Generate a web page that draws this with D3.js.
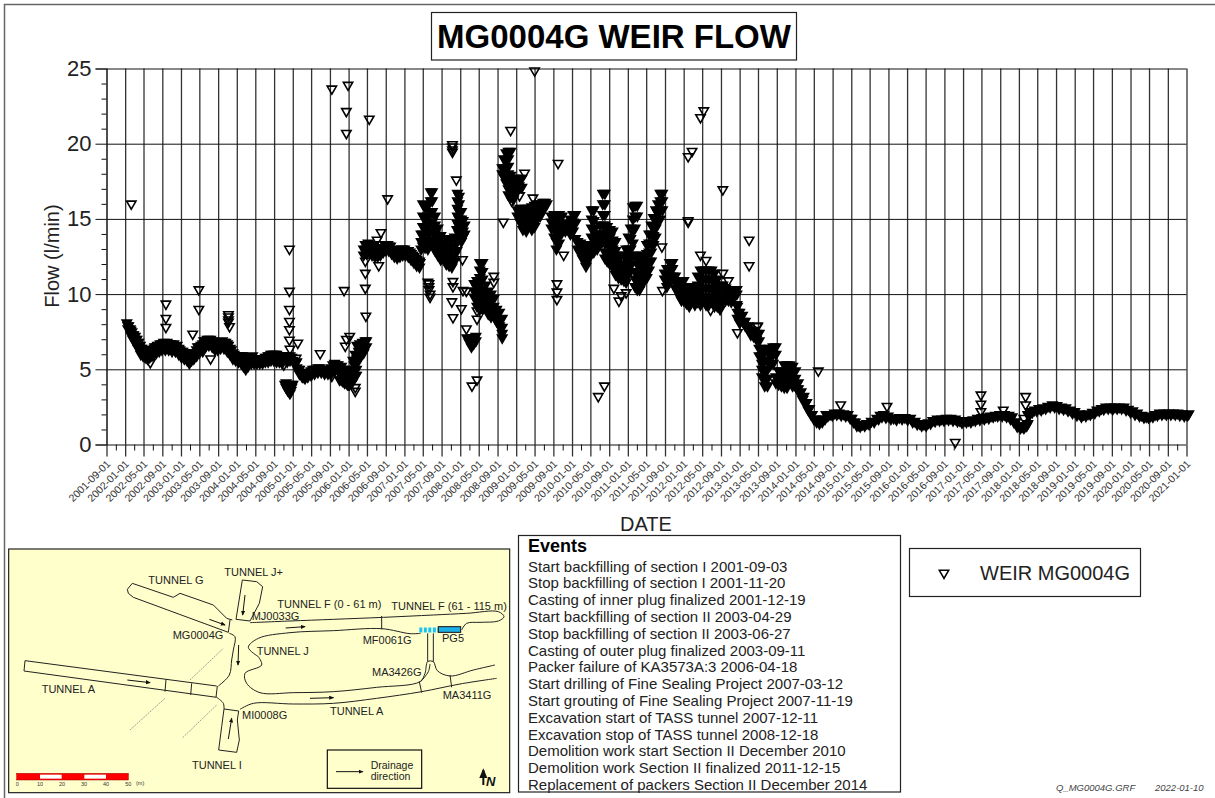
<!DOCTYPE html>
<html>
<head>
<meta charset="utf-8">
<style>
	body {margin: 0; background: #fff;}
	svg {display: block; font-family: "Liberation Sans", Arial, sans-serif;}
</style>
<script src="https://d3js.org/d3.v7.min.js"></script>
</head>
<body>
<svg id="chart" width="1215" height="798"></svg>
<script>
// x tick labels, every 4 months
var xTickLabels = ["2001-09-01","2002-01-01","2002-05-01","2002-09-01","2003-01-01","2003-05-01","2003-09-01","2004-01-01","2004-05-01","2004-09-01","2005-01-01","2005-05-01","2005-09-01","2006-01-01","2006-05-01","2006-09-01","2007-01-01","2007-05-01","2007-09-01","2008-01-01","2008-05-01","2008-09-01","2009-01-01","2009-05-01","2009-09-01","2010-01-01","2010-05-01","2010-09-01","2011-01-01","2011-05-01","2011-09-01","2012-01-01","2012-05-01","2012-09-01","2013-01-01","2013-05-01","2013-09-01","2014-01-01","2014-05-01","2014-09-01","2015-01-01","2015-05-01","2015-09-01","2016-01-01","2016-05-01","2016-09-01","2017-01-01","2017-05-01","2017-09-01","2018-01-01","2018-05-01","2018-09-01","2019-01-01","2019-05-01","2019-09-01","2020-01-01","2020-05-01","2020-09-01","2021-01-01"];
var yTicks = [0, 5, 10, 15, 20, 25];
var yMinorTicks = [1,2,3,4,6,7,8,9,11,12,13,14,16,17,18,19,21,22,23,24];

// readings: [decimal year, flow, flow, ...]
var flowEarly = [[2002.03,8.1],[2002.06,7.9],[2002.09,7.7],[2002.12,7.5],[2002.15,7.3],[2002.18,7.2],[2002.21,7.0],[2002.24,6.8],[2002.27,6.6],[2002.30,6.4],[2002.33,6.3],[2002.37,6.1],[2002.41,6.1],[2002.45,6.1],[2002.49,6.3],[2002.53,6.5],[2002.58,6.6],[2002.63,6.7],[2002.69,6.8],[2002.75,6.8],[2002.81,6.7],[2002.87,6.7],[2002.93,6.6],[2002.98,6.3],[2003.03,6.2],[2003.08,6.1],[2003.13,5.9],[2003.16,5.7],[2003.20,6.0],[2003.25,6.1],[2003.30,6.5],[2003.36,6.6],[2003.41,6.9],[2003.47,7.0],[2003.53,7.0],[2003.58,6.8],[2003.63,6.6],[2003.68,6.7],[2003.74,6.9],[2003.80,6.8],[2003.85,6.6],[2003.90,6.3],[2003.95,6.0],[2004.00,5.9],[2004.05,5.9],[2004.10,5.9],[2004.14,5.5],[2004.18,5.3],[2004.23,5.7],[2004.28,5.9],[2004.33,5.6],[2004.38,5.7],[2004.43,5.6],[2004.48,5.7],[2004.53,5.8],[2004.58,5.9],[2004.63,6.0],[2004.68,6.0],[2004.73,5.9],[2004.78,5.9],[2004.84,5.9],[2004.86,4.0],[2004.89,3.9],[2004.92,3.7],[2004.95,3.4],[2004.98,3.8,5.8],[2005.00,4.0,5.6],[2005.05,5.4],[2005.10,5.0],[2005.15,4.7],[2005.20,4.5],[2005.25,4.6],[2005.30,4.8],[2005.36,5.0],[2005.42,5.0],[2005.48,5.1],[2005.54,5.0],[2005.60,4.9],[2005.66,4.9],[2005.72,5.3],[2005.78,5.3],[2005.84,5.1,4.3],[2005.90,5.0,4.2],[2005.96,4.8,4.1],[2006.00,4.5,4.0],[2006.04,4.3],[2006.08,4.5,5.6],[2006.12,4.6,6.0],[2006.15,6.6,5.7],[2006.20,6.7,6.0],[2006.25,6.8,6.2],[2006.30,6.9]];

var flowEarlyLow = [[2002.05,7.9,7.7],[2002.10,7.6,7.3],[2002.14,7.3,7.0],[2002.19,7.0,6.7],[2002.23,6.8,6.4],[2002.28,6.4,6.0],[2002.32,6.3,5.9],[2002.36,6.2,5.8],[2002.40,6.1,5.7],[2002.44,6.2,5.8],[2002.48,6.3,5.9],[2002.52,6.4,6.0],[2002.56,6.5,6.1],[2002.61,6.6,6.2],[2002.66,6.7,6.3],[2002.72,6.7,6.3],[2002.78,6.7,6.3],[2002.84,6.6,6.2],[2002.90,6.5,6.2],[2002.96,6.4,6.0],[2003.01,6.2,5.8],[2003.06,6.1,5.7],[2003.11,6.0,5.6],[2003.15,5.8,5.4],[2003.19,5.9,5.6],[2003.23,6.1,5.7],[2003.28,6.3,5.9],[2003.33,6.5,6.1],[2003.39,6.7,6.2],[2003.44,6.9,6.5],[2003.50,7.0,6.6],[2003.56,6.9,6.5],[2003.61,6.7,6.3],[2003.66,6.7,6.3],[2003.71,6.8,6.4],[2003.77,6.8,6.4],[2003.83,6.7,6.2],[2003.88,6.4,6.0],[2003.93,6.1,5.7],[2003.98,5.9,5.6],[2004.03,5.9,5.5],[2004.08,5.9,5.4],[2004.12,5.7,5.2],[2004.16,5.4,5.0],[2004.20,5.5,5.2],[2004.26,5.8,5.4],[2004.31,5.7,5.4],[2004.36,5.7,5.4],[2004.41,5.7,5.4],[2004.46,5.7,5.4],[2004.51,5.8,5.5],[2004.56,5.9,5.5],[2004.61,6.0,5.6],[2004.66,6.0,5.6],[2004.71,6.0,5.5],[2004.76,5.9,5.5],[2004.81,5.9,5.4],[2004.88,4.1,3.8],[2004.91,4.0,3.6],[2004.94,3.9,3.5],[2004.97,4.0,3.6],[2004.90,5.9,5.5],[2004.95,5.9,5.6],[2005.02,5.5],[2005.07,5.5,5.1],[2005.12,5.0,4.7],[2005.17,4.8,4.5],[2005.22,4.6,4.4],[2005.27,4.7,4.5],[2005.33,4.9,4.6],[2005.39,5.0,4.7],[2005.45,5.1,4.8],[2005.51,5.0,4.8],[2005.57,5.0,4.7],[2005.63,4.9,4.7],[2005.69,5.1,4.7],[2005.75,5.4,4.9],[2005.81,5.3,4.9],[2005.87,5.2,4.7,4.3],[2005.93,5.0,4.6,4.1],[2005.98,4.9,4.5,4.0],[2006.02,4.8,4.4,4.0],[2006.06,5.0,4.5,4.1],[2006.10,5.3,4.8,4.4],[2006.14,5.6,5.0,4.6],[2006.18,6.2,5.6],[2006.22,6.4,5.9],[2006.27,6.5,6.1],[2006.32,6.9,6.5]];

var flowMid = [[2006.27,13.0,12.6],[2006.30,13.3,12.9],[2006.35,13.4],[2006.40,13.3],[2006.45,12.9,13.3],[2006.50,13.1],[2006.55,12.9],[2006.60,13.0],[2006.65,13.3],[2006.70,13.3],[2006.75,13.2],[2006.80,12.9],[2006.85,12.8],[2006.90,12.7],[2006.95,13.0],[2007.00,13.0],[2007.05,12.9],[2007.10,12.8],[2007.15,12.6],[2007.20,12.4],[2007.25,12.2],[2007.28,12.1],
[2006.32,13.0,12.7],[2006.37,13.2,12.8],[2006.42,13.1,12.6],[2006.47,13.0,12.5],[2006.52,12.9,12.5],[2006.57,12.9,12.6],[2006.62,13.1,12.8],[2006.67,13.2,12.9],[2006.72,13.2,12.9],[2006.77,13.0,12.7],[2006.82,12.9,12.5],[2006.87,12.7,12.4],[2006.92,12.9,12.5],[2006.97,13.0,12.6],[2007.02,12.9,12.6],[2007.07,12.9,12.5],[2007.12,12.7,12.3],[2007.17,12.5,12.1],[2007.22,12.3,11.9],[2007.27,12.2,11.8],
[2007.30,14.0,13.5,13.0],[2007.33,16.0,15.2,14.5,14.0,13.2],[2007.37,15.8,15.0,14.4,13.6,13.1],[2007.42,15.9,15.2,14.6,14.0,13.4,13.0],[2007.47,16.8,16.2,15.4,14.8,14.2,13.6],[2007.50,16.8,16.2,15.5,14.8,14.2,13.5],[2007.55,15.2,14.6,14.0,13.4,12.9],[2007.60,14.4,13.8,13.2,12.6],[2007.65,13.9,13.3,12.7,12.3],[2007.70,13.7,13.1,12.5],[2007.75,13.5,12.9,12.4,12.0],[2007.80,13.6,13.0,12.4,11.9],[2007.85,13.7,13.1,12.5,11.8],[2007.90,13.8,13.2,12.6,12.2],[2007.94,14.3,13.5,12.9],[2007.95,16.7,16.2,15.7,15.2,14.7],[2007.98,16.5,16.0,15.5,15.0,14.5,14.0],[2008.02,15.5,15.0,14.5,14.0,13.5],[2008.05,14.9,14.2,13.8],[2008.08,14.6,14.0],
[2008.12,7.1],[2008.16,7.0,6.8],[2008.20,7.1,6.8,6.5],[2008.24,7.1,6.7],[2008.28,7.2,6.9],
[2008.25,10.7,10.2,9.8],[2008.30,10.9,10.4,10.0,9.6,9.2],[2008.35,12.1,11.6,11.1,10.6,10.1,9.6,9.0],[2008.40,12.1,11.5,11.0,10.5,10.0,9.5,9.0],[2008.45,10.6,10.1,9.5,9.1],[2008.50,10.2,9.7,9.2,8.7],[2008.55,10.0,9.5,9.0,8.5],[2008.60,9.7,9.2,8.7,8.6],[2008.65,9.0,8.6,8.2],[2008.70,8.8,8.3,7.9],[2008.75,8.4,7.8,7.4,7.1],
[2008.75,18.4,18.0],[2008.78,19.0,18.4,17.8],[2008.82,19.4,18.9,18.3,17.8,17.4],[2008.86,19.5,19.0,18.5,18.0,17.5,17.0,16.6],[2008.90,19.5,17.9,17.4,17.0,16.5],[2008.95,17.7,17.2,16.7,16.3],[2009.00,17.7,17.2,16.7],[2009.05,17.7,17.2],[2009.10,17.7,17.1],
[2009.02,15.6,15.2],[2009.07,15.7,15.2,14.8],[2009.12,15.7,15.2,14.7,14.3],[2009.18,15.7,15.2,14.7,14.2],[2009.23,15.7,15.2,14.8],[2009.28,15.8,15.3,14.8,14.3],[2009.33,15.9,15.4,14.9,14.5],[2009.38,16.0,15.5,15.0],[2009.43,16.0,15.6,15.2],[2009.48,16.1,15.7],[2009.52,16.1,15.8],[2009.55,16.0]];

var flowSwings = [[2009.63,15.2,14.8,14.4],[2009.68,15.3,14.8,14.3,13.8],[2009.72,15.3,14.7,14.1,13.5,13.0],[2009.77,15.3,14.6,14.0,13.4],[2009.82,15.2,14.6,14.1],[2009.88,14.7,14.2],[2009.93,14.3],[2009.97,15.0,14.5,14.0],[2010.02,15.3,14.8,14.2],[2010.06,15.3,14.7,13.7],[2010.10,13.5,13.0],[2010.15,13.4,13.0,12.7],[2010.20,13.2,12.7,12.4],[2010.25,13.0,12.5,12.0],[2010.30,13.3,12.8,12.4],[2010.35,15.6,15.0,14.4,13.8,13.2,12.7],[2010.39,15.6,14.9,14.3,13.6,13.0,12.8],[2010.45,14.0,13.4,13.0],[2010.50,14.6,14.0,13.4],[2010.55,16.7,16.0,15.3,14.6,14.0,13.5],[2010.59,16.7,16.0,15.3,14.6,14.0,13.4,12.8,12.4],[2010.63,14.5,14.0,13.4,12.8,12.2],[2010.68,14.3,13.8,13.2,12.6,12.0],[2010.73,14.2,13.6,13.0,12.4,11.8],[2010.78,13.5,12.9,12.3,11.7,11.3],[2010.83,12.5,12.0,11.5,11.1],[2010.88,12.6,12.0,11.5,11.0],[2010.93,12.6,12.0,11.4,10.9],[2010.97,13.0,12.4,11.8,11.2,10.8],[2011.01,13.8,13.0,12.4,11.8,11.3],[2011.05,14.4,13.7,13.0,12.4,11.9],[2011.09,15.8,15.0,14.2,13.4,12.6],[2011.13,15.9,15.2,14.4,12.6,11.5,11.0,10.5],[2011.17,15.9,15.2,12.5,12.0,11.4,10.8,10.3],[2011.21,12.5,12.0,11.4,10.8,10.3],[2011.25,12.5,12.0,11.5,11.0,10.6],[2011.30,12.6,12.0,11.5,11.0],[2011.34,13.3,12.7,12.1,11.6,11.1],[2011.38,14.0,13.4,12.8,12.2,11.6],[2011.42,14.6,14.0,13.4,12.8,12.2],[2011.46,15.1,14.5,13.9,13.3],[2011.50,15.6,15.0,14.4,13.8],[2011.54,16.0,15.4,14.8],[2011.58,16.7,16.2,15.6,15.0],[2011.62,16.7,16.2,15.6],
[2011.66,11.4,11.0],[2011.70,11.7,11.3,10.9,10.5],[2011.75,12.1,11.7,11.2,10.8],[2011.80,12.1,11.7,11.2],[2011.85,11.2,10.8,10.4],[2011.90,10.9,10.5,10.1],[2011.95,10.9,10.4,10.0,9.7],[2012.00,10.9,10.4,10.0,9.6],[2012.05,10.5,10.0,9.6,9.4],[2012.10,10.5,10.0,9.5,9.2],[2012.15,10.4,10.0,9.6],[2012.20,10.4,10.0,9.5,9.3],[2012.25,11.2,10.6,10.0,9.5],[2012.30,11.6,11.0,10.4,9.8,9.3],[2012.35,11.6,11.0,10.4,9.8],[2012.40,11.6,11.0,10.4,9.8,9.3],[2012.45,11.6,11.0,10.4,9.8,9.3],[2012.50,11.6,11.0,10.4,9.8],[2012.55,11.4,10.8,10.2,9.6,9.2],[2012.60,11.0,10.4,9.8,9.2],[2012.65,10.6,10.0,9.4,9.0],[2012.70,10.6,10.0,9.5],[2012.75,10.4,10.0,9.6],[2012.80,10.3,10.0,9.6],[2012.85,10.3,9.9,9.5],[2012.90,10.3,9.9],[2012.95,10.3,10.0,9.3],
[2012.96,9.2,8.8,8.4],[2013.00,8.8,8.4,8.1],[2013.05,8.6,8.2],[2013.10,8.2,7.9],[2013.15,7.7,7.9],[2013.20,7.6,7.3],[2013.25,7.6,7.2],[2013.30,7.4,7.0],[2013.35,7.4,6.9,6.4,5.9],[2013.40,6.4,5.9,5.4,5.0,4.5],[2013.45,6.2,5.6,5.0,4.4,3.9],[2013.50,6.2,5.6,5.0,4.4,3.9],[2013.55,6.4,5.9,5.3],[2013.60,6.5,6.0,5.4],[2013.65,6.5,6.0,4.5,4.1],[2013.70,4.9,4.4,4.0],[2013.75,4.9,4.4,3.9],[2013.80,5.3,4.8,4.3,3.8],[2013.85,5.3,4.8,4.3,3.8],[2013.90,5.3,4.8,4.4],[2013.95,5.2,4.8,4.3,3.9],[2014.00,4.9,4.4,3.9],[2014.05,4.1,3.7],[2014.10,3.5],[2014.15,3.2],[2014.20,2.8],[2014.25,2.4],[2014.30,2.0],[2014.35,1.7],[2014.40,1.6],[2014.45,1.6],[2014.50,1.7],
[2014.03,3.7],[2014.08,3.4],[2014.13,3.0],[2014.18,2.7],[2014.23,2.3],[2014.28,2.0],[2014.33,1.7],[2014.38,1.5],[2014.43,1.4],[2014.48,1.5],[2014.53,1.7]];

var flowLate = [[2014.55,2.0],[2014.62,2.0],[2014.70,2.1],[2014.78,2.1],[2014.86,2.05],[2014.94,2.0],[2015.01,1.75],[2015.07,1.5],[2015.13,1.3],[2015.20,1.35],[2015.28,1.4],[2015.36,1.55],[2015.46,1.75],[2015.52,1.95],[2015.58,2.0],[2015.66,1.9],[2015.76,1.75],[2015.86,1.8],[2015.96,1.8],[2016.06,1.75],[2016.14,1.55],[2016.22,1.4],[2016.30,1.35],[2016.38,1.45],[2016.46,1.6],[2016.54,1.7],[2016.62,1.7],[2016.70,1.75],[2016.78,1.75],[2016.86,1.7],[2016.94,1.6],[2017.02,1.6],[2017.10,1.6],[2017.18,1.65],[2017.26,1.75],[2017.34,1.8],[2017.42,1.85],[2017.50,1.9],[2017.58,1.95],[2017.66,2.0],[2017.74,2.0],[2017.82,1.95],[2017.88,1.85],[2017.94,1.5],[2018.00,1.25],[2018.06,1.2],[2018.12,1.25],[2018.16,1.4,2.0],[2018.20,2.2],[2018.28,2.3],[2018.36,2.4],[2018.44,2.45],[2018.52,2.55],[2018.60,2.65],[2018.68,2.6],[2018.76,2.5],[2018.84,2.45],[2018.92,2.3],[2019.00,2.2],[2019.08,2.05],[2019.16,2.0],[2019.24,2.05],[2019.32,2.15],[2019.40,2.3],[2019.48,2.4],[2019.56,2.5],[2019.64,2.5],[2019.72,2.5],[2019.80,2.5],[2019.88,2.5],[2019.96,2.35],[2020.04,2.25],[2020.12,2.1],[2020.20,1.95],[2020.28,1.85],[2020.36,1.9],[2020.44,2.0],[2020.52,2.1],[2020.60,2.1],[2020.68,2.1],[2020.76,2.1],[2020.84,2.1],[2020.92,2.05],[2021.00,2.0],[2021.04,2.05]];

var flowLateLow = [[2014.58,1.9],[2014.66,1.95],[2014.74,2.0],[2014.82,1.95],[2014.90,1.9],[2014.98,1.75],[2015.04,1.5],[2015.10,1.25],[2015.16,1.2],[2015.24,1.25],[2015.32,1.35],[2015.41,1.5],[2015.49,1.7],[2015.55,1.85],[2015.62,1.8],[2015.71,1.7],[2015.81,1.65],[2015.91,1.7],[2016.01,1.65],[2016.10,1.5],[2016.18,1.35],[2016.26,1.25],[2016.34,1.25],[2016.42,1.4],[2016.50,1.55],[2016.58,1.6],[2016.66,1.6],[2016.74,1.65],[2016.82,1.6],[2016.90,1.55],[2016.98,1.45],[2017.06,1.5],[2017.14,1.5],[2017.22,1.6],[2017.30,1.65],[2017.38,1.7],[2017.46,1.75],[2017.54,1.85],[2017.62,1.9],[2017.70,1.9],[2017.78,1.85],[2017.85,1.7],[2017.91,1.5],[2017.97,1.2],[2018.03,1.1],[2018.09,1.1],[2018.14,1.25],[2018.18,1.9],[2018.24,2.15],[2018.32,2.25],[2018.40,2.3],[2018.48,2.4],[2018.56,2.5],[2018.64,2.5],[2018.72,2.4],[2018.80,2.35],[2018.88,2.25],[2018.96,2.1],[2019.04,1.95],[2019.12,1.85],[2019.20,1.9],[2019.28,2.0],[2019.36,2.1],[2019.44,2.25],[2019.52,2.35],[2019.60,2.4],[2019.68,2.35],[2019.76,2.4],[2019.84,2.4],[2019.92,2.3],[2020.00,2.15],[2020.08,2.0],[2020.16,1.9],[2020.24,1.8],[2020.32,1.8],[2020.40,1.85],[2020.48,1.95],[2020.56,2.0],[2020.64,2.0],[2020.72,2.0],[2020.80,2.0],[2020.88,1.95],[2020.96,1.9],[2021.02,1.95]];

// isolated readings drawn open
var flowOutliers = [[2002.11,16.0],[2003.32,10.3,9.0],[2004.94,13.0,10.2,9.0,8.2,7.65,6.95],[2005.92,10.25],[2005.70,23.65,4.55],[2005.99,23.9],[2005.96,22.15,20.7,7.0],[2006.37,21.65],[2006.70,16.35],[2006.58,14.1],[2006.51,13.6],[2006.30,10.4,11.4,12.2],[2006.54,11.9],[2002.73,9.35,8.4,7.8],[2003.21,7.35],[2002.45,5.45],[2003.53,5.7],[2003.85,8.65,8.5,8.3,8.15],[2003.87,7.85],[2004.95,6.35],[2005.09,6.75],[2005.06,5.75],[2004.84,5.3],[2005.49,6.05],[2005.94,6.55],[2006.02,7.2],[2006.12,3.8,3.55],[2006.15,5.6],[2006.31,8.55],
[2009.33,24.85],[2008.90,20.9],[2009.75,18.7],[2009.15,18.05],[2007.93,17.6],[2007.86,19.95,19.8,19.6,19.45],[2009.06,16.55],[2009.30,16.4],[2008.92,16.2],[2008.77,14.8],[2012.08,14.8,14.9],[2008.04,12.3],[2009.85,12.6],[2010.19,12.35],[2010.25,11.85],[2011.61,13.15],[2012.30,12.6],[2012.40,12.25],[2012.70,16.95,11.4],[2012.30,21.75],[2012.36,22.2],[2012.15,19.5],[2012.08,19.15],[2013.17,13.6,11.9],[2012.80,10.9],
[2007.42,10.8],[2007.44,10.7,10.5,10.3],[2007.46,10.0,9.8],[2007.87,10.85,10.5,8.45],[2007.85,9.5],[2008.05,10.25],[2008.11,10.2,7.7],[2008.02,9.05],[2008.30,8.35,8.9,4.3],[2008.21,3.9],[2008.60,11.2,10.8],[2009.73,10.7,10.15,9.65],[2010.47,3.2],[2010.58,3.9],[2010.75,10.4],[2010.88,9.9],[2010.97,10.1],[2010.84,9.55],[2011.62,10.25],[2011.96,9.6],[2012.48,8.95],[2012.96,7.45],[2013.32,7.9,7.85],
[2014.41,4.9],[2014.81,2.65],[2015.64,2.55],[2016.86,0.15],[2017.32,3.3,2.7,2.2],[2017.72,2.3],[2018.12,3.2,2.65],[2018.09,1.75]];

var eventLines = ["Start backfilling of section I 2001-09-03","Stop backfilling of section I 2001-11-20","Casting of inner plug finalized 2001-12-19","Start backfilling of section II 2003-04-29","Stop backfilling of section II 2003-06-27","Casting of outer plug finalized 2003-09-11","Packer failure of KA3573A:3 2006-04-18","Start drilling of Fine Sealing Project 2007-03-12","Start grouting of Fine Sealing Project 2007-11-19","Excavation start of TASS tunnel 2007-12-11","Excavation stop of TASS tunnel 2008-12-18","Demolition work start Section II December 2010","Demolition work Section II finalized 2011-12-15","Replacement of packers Section II December 2014"];

var svg = d3.select("#chart");

var yearToDate = function(y) {
	var yr = Math.floor(y);
	var start = new Date(yr, 0, 1), end = new Date(yr + 1, 0, 1);
	return new Date(+start + (y - yr) * (end - start));
}
var expand = function(rows) {
	return rows.flatMap(function(r) {
		return r.slice(1).map(function(v) { return {date: yearToDate(r[0]), flow: v}; });
	});
}
var parseTick = d3.timeParse("%Y-%m-%d");
var left = 106.5, right = 1186.5, top_ = 68.5, bottom = 444.5;

var x_scale = d3.scaleTime()
	.domain([parseTick(xTickLabels[0]), parseTick(xTickLabels[xTickLabels.length - 1])])
	.range([left, right]);
var y_scale = d3.scaleLinear().domain([0, 25]).range([bottom, top_]);

// sheet border
svg.append("path").attr("d", "M1215,4.5H4.5V798").attr("fill", "none").attr("stroke", "#666").attr("stroke-width", 1.5);

// title
svg.append("rect").attr("x", 431.5).attr("y", 12.5).attr("width", 365).attr("height", 47.5)
	.attr("fill", "#fff").attr("stroke", "#222").attr("stroke-width", 1.2);
svg.append("text").attr("x", 614).attr("y", 48).attr("text-anchor", "middle")
	.style("font-size", "33px").style("font-weight", "bold").text("MG0004G WEIR FLOW");

// axes, grid lines come from the tick lengths
var xDates = xTickLabels.map(parseTick);
var xMinor = xDates.slice(0, -1).map(function(d) { return d3.timeMonth.offset(d, 2); });

svg.append("g").attr("transform", "translate(0," + bottom + ")")
	.call(d3.axisBottom(x_scale).tickValues(xMinor).tickSize(6).tickFormat(""))
	.call(function(g) { g.select(".domain").remove(); })
	.selectAll("line").attr("stroke", "#111");

var xAxis = svg.append("g").attr("transform", "translate(0," + bottom + ")")
	.call(d3.axisBottom(x_scale).tickValues(xDates).tickSize(12).tickFormat(d3.timeFormat("%Y-%m-%d")));
xAxis.select(".domain").remove();
xAxis.selectAll("line").attr("stroke", "#333").attr("stroke-width", 1.3);
xAxis.selectAll(".tick").append("line").attr("y1", 0).attr("y2", top_ - bottom).attr("stroke", "#333").attr("stroke-width", 1.3);
xAxis.selectAll("text")
	.attr("transform", "translate(-7,9) rotate(-45)")
	.attr("text-anchor", "end").attr("y", 12).attr("dy", "0.35em").attr("x", 0)
	.style("font-size", "10.5px").style("font-family", "Liberation Sans").attr("fill", "#333");

var yAxis = svg.append("g").attr("transform", "translate(" + left + ",0)")
	.call(d3.axisLeft(y_scale).tickValues(yTicks).tickSize(11).tickPadding(4));
yAxis.select(".domain").attr("stroke", "#222");
yAxis.selectAll("line").attr("stroke", "#111");
yAxis.selectAll(".tick").append("line").attr("x1", 0).attr("x2", right - left).attr("stroke", "#111");
yAxis.selectAll("text").style("font-size", "22px").style("font-family", "Liberation Sans").attr("fill", "#222");

svg.append("g").attr("transform", "translate(" + left + ",0)")
	.call(d3.axisLeft(y_scale).tickValues(yMinorTicks).tickSize(5).tickFormat(""))
	.call(function(g) { g.select(".domain").remove(); })
	.selectAll("line").attr("stroke", "#111");

// axis titles
svg.append("text").attr("transform", "translate(59,256) rotate(-90)").attr("text-anchor", "middle")
	.style("font-size", "20px").attr("fill", "#222").text("Flow (l/min)");
svg.append("text").attr("x", 646).attr("y", 531).attr("text-anchor", "middle")
	.style("font-size", "20px").attr("fill", "#222").text("DATE");

// weir readings
var marker = d3.symbol().type(d3.symbolTriangle).size(38);
var placeMarker = function(d) {
	return "translate(" + x_scale(d.date) + "," + y_scale(d.flow) + ") rotate(180)";
}
svg.append("g").selectAll("path")
	.data(expand(flowOutliers))
	.join("path")
	.attr("d", marker).attr("transform", placeMarker)
	.attr("fill", "none").attr("stroke", "#000").attr("stroke-width", 1.6);
svg.append("g").selectAll("path")
	.data(expand(flowEarly.concat(flowEarlyLow, flowMid, flowSwings, flowLate, flowLateLow)))
	.join("path")
	.attr("d", marker).attr("transform", placeMarker)
	.attr("fill", "#000").attr("stroke", "#000").attr("stroke-width", 1.6);

// events box
var events = svg.append("g");
events.append("rect").attr("x", 518.5).attr("y", 535.5).attr("width", 382).attr("height", 256.5)
	.attr("fill", "#fff").attr("stroke", "#222").attr("stroke-width", 1.2);
events.append("text").attr("x", 528).attr("y", 552).style("font-size", "18px").style("font-weight", "bold").text("Events");
events.selectAll(".ev").data(eventLines).join("text").attr("class", "ev")
	.attr("x", 528).attr("y", function(d, i) { return 571.5 + i * 16.8; })
	.style("font-size", "15px").attr("fill", "#222").text(function(d) { return d; });

// legend
svg.append("rect").attr("x", 909.5).attr("y", 548.5).attr("width", 231).attr("height", 48)
	.attr("fill", "#fff").attr("stroke", "#222").attr("stroke-width", 1.2);
svg.append("path").attr("d", marker).attr("transform", "translate(944,573) rotate(180)")
	.attr("fill", "none").attr("stroke", "#000").attr("stroke-width", 1.6);
svg.append("text").attr("x", 980).attr("y", 580).style("font-size", "20px").attr("fill", "#222").text("WEIR MG0004G");

// footer
svg.append("text").attr("x", 1056).attr("y", 791).style("font-size", "9.5px").style("font-style", "italic").attr("fill", "#444").text("Q_MG0004G.GRF");
svg.append("text").attr("x", 1155).attr("y", 791).style("font-size", "9.5px").style("font-style", "italic").attr("fill", "#444").text("2022-01-10");

// tunnel map, outlines traced in a 3x working space
var mx = d3.scaleLinear().domain([0, 1560]).range([0, 520]);
var my = d3.scaleLinear().domain([0, 774]).range([540, 798]);
var mapLine = d3.line().x(function(p) { return mx(p[0]); }).y(function(p) { return my(p[1]); });
var mapCurve = d3.line().x(function(p) { return mx(p[0]); }).y(function(p) { return my(p[1]); }).curve(d3.curveCatmullRom);

var tunnelOutlines = [
	[[750,248],[870,243],[1000,238],[1150,232],[1300,225],[1400,220],[1495,215],[1512,230],[1495,243],[1440,247],[1400,250],[1385,270]],
	[[775,350],[745,322],[775,295],[870,278],[1000,272],[1145,266],[1230,281],[1262,280]],
	[[688,280],[705,290],[700,330],[695,360],[688,405],[655,438]],
	[[775,350],[785,375],[735,400],[740,430],[780,458],[880,458],[1000,455],[1130,442],[1260,425],[1275,400],[1283,365],[1300,365],[1312,392],[1350,408],[1420,390],[1485,375]],
	[[1262,425],[1285,395],[1290,372]],
	[[650,472],[670,490],[672,507]],
	[[720,508],[760,490],[880,492],[1000,490],[1130,475],[1265,455],[1380,432],[1490,415]]
];
var tunnelStraights = [
	[[685,277],[400,172],[385,160],[382,148],[397,130],[520,172],[540,160],[640,195],[680,235],[697,240]],
	[[708,238],[727,120],[770,125],[788,140],[778,190],[750,243]],
	[[75,362],[650,438]],[[72,393],[650,472]],[[75,362],[72,393]],
	[[672,507],[716,513],[712,540],[718,600],[710,637],[656,630],[665,560],[672,507]],
	[[708,238],[750,243]],[[690,240],[685,277]],
	[[498,418],[495,455]],[[575,430],[572,465]],[[652,438],[648,472]],
	[[1145,228],[1145,268]],[[1258,425],[1265,458]],[[1350,405],[1355,442]],
	[[1283,280],[1283,365]],[[1300,280],[1300,365]]
];
var tunnelFaults = [[[570,420],[670,325]],[[390,570],[495,475]],[[548,593],[650,495]]];
var tunnelArrows = [[[382,420],[450,428]],[[628,238],[675,255]],[[735,165],[728,225]],[[716,315],[714,375]],[[857,264],[915,260]],[[930,475],[1000,473]],[[685,597],[695,535]]];
var keyArrow = [[1008,695],[1088,695]];
var mapLabels = [["TUNNEL G",445,132],["TUNNEL J+",673,107],["TUNNEL F (0 - 61 m)",832,204],["TUNNEL F (61 - 115 m)",1174,210],["MJ0033G",755,239],["MG0004G",518,298],["MF0061G",1088,313],["PG5",1326,307],["TUNNEL J",770,346],["MA3426G",1116,409],["MA3411G",1328,477],["TUNNEL A",125,460],["TUNNEL A",990,524],["MI0008G",726,538],["TUNNEL I",576,688]];
var scaleLabels = [[0,52],[10,120],[20,186],[30,252],[40,318],[50,385]];

var map = svg.append("g");
map.append("rect").attr("x", mx(26)).attr("y", my(27)).attr("width", mx(1529) - mx(26)).attr("height", my(758) - my(27))
	.attr("fill", "#ffffcc").attr("stroke", "#222").attr("stroke-width", 1.2);
map.selectAll(".curve").data(tunnelOutlines).join("path").attr("class", "curve")
	.attr("d", mapCurve).attr("fill", "none").attr("stroke", "#222").attr("stroke-width", 1);
map.selectAll(".straight").data(tunnelStraights).join("path").attr("class", "straight")
	.attr("d", mapLine).attr("fill", "none").attr("stroke", "#222").attr("stroke-width", 1);
map.selectAll(".fault").data(tunnelFaults).join("path").attr("class", "fault")
	.attr("d", mapLine).attr("fill", "none").attr("stroke", "#888").attr("stroke-width", 0.8).attr("stroke-dasharray", "2,1");
map.append("path").attr("d", mapLine([[1258,270],[1315,270]])).attr("stroke", "#19c3f0").attr("stroke-width", 5).attr("stroke-dasharray", "3,1.5").attr("fill", "none");
map.append("rect").attr("x", mx(1315)).attr("y", my(260)).attr("width", mx(67)).attr("height", my(17) - my(0))
	.attr("fill", "#1cb0e6").attr("stroke", "#111").attr("stroke-width", 1);
svg.append("defs").append("marker").attr("id", "head").attr("viewBox", "0 0 6 6").attr("refX", 5).attr("refY", 3)
	.attr("markerWidth", 5).attr("markerHeight", 5).attr("orient", "auto")
	.append("path").attr("d", "M0,0.5L6,3L0,5.5Z").attr("fill", "#111");
map.selectAll(".arrow").data(tunnelArrows).join("path").attr("class", "arrow")
	.attr("d", mapLine).attr("stroke", "#111").attr("stroke-width", 1).attr("marker-end", "url(#head)");
map.selectAll(".lab").data(mapLabels).join("text").attr("class", "lab")
	.attr("x", function(d) { return mx(d[1]); }).attr("y", function(d) { return my(d[2]); })
	.style("font-size", "11px").attr("fill", "#222").text(function(d) { return d[0]; });

// scale bar
map.append("rect").attr("x", mx(50)).attr("y", my(700)).attr("width", mx(335)).attr("height", my(20) - my(0)).attr("fill", "#f00").attr("stroke", "#900").attr("stroke-width", 0.5);
map.selectAll(".gap").data([120, 253]).join("rect").attr("class", "gap")
	.attr("x", function(d) { return mx(d); }).attr("y", my(704)).attr("width", mx(65)).attr("height", my(12) - my(0)).attr("fill", "#fff");
map.selectAll(".sc").data(scaleLabels).join("text").attr("class", "sc")
	.attr("x", function(d) { return mx(d[1]); }).attr("y", my(738)).attr("text-anchor", "middle")
	.style("font-size", "5.5px").attr("fill", "#333").text(function(d) { return d[0]; });
map.append("text").attr("x", mx(408)).attr("y", my(736)).style("font-size", "5.5px").attr("fill", "#333").text("(m)");

// drainage key and north arrow
map.append("rect").attr("x", mx(982)).attr("y", my(630)).attr("width", mx(283)).attr("height", my(115) - my(0)).attr("fill", "#ffffcc").attr("stroke", "#111").attr("stroke-width", 1.2);
map.append("path").attr("d", mapLine(keyArrow)).attr("stroke", "#111").attr("stroke-width", 1).attr("marker-end", "url(#head)");
map.append("text").attr("x", mx(1112)).attr("y", my(686)).style("font-size", "10.5px").attr("fill", "#222").text("Drainage");
map.append("text").attr("x", mx(1112)).attr("y", my(720)).style("font-size", "10.5px").attr("fill", "#222").text("direction");
map.append("path").attr("d", mapLine([[1450,735],[1450,690]])).attr("stroke", "#111").attr("stroke-width", 2).attr("marker-end", "url(#head)");
map.append("text").attr("x", mx(1458)).attr("y", my(738)).style("font-size", "13px").style("font-weight", "bold").style("font-style", "italic").attr("fill", "#111").text("N");
</script>
</body>
</html>
